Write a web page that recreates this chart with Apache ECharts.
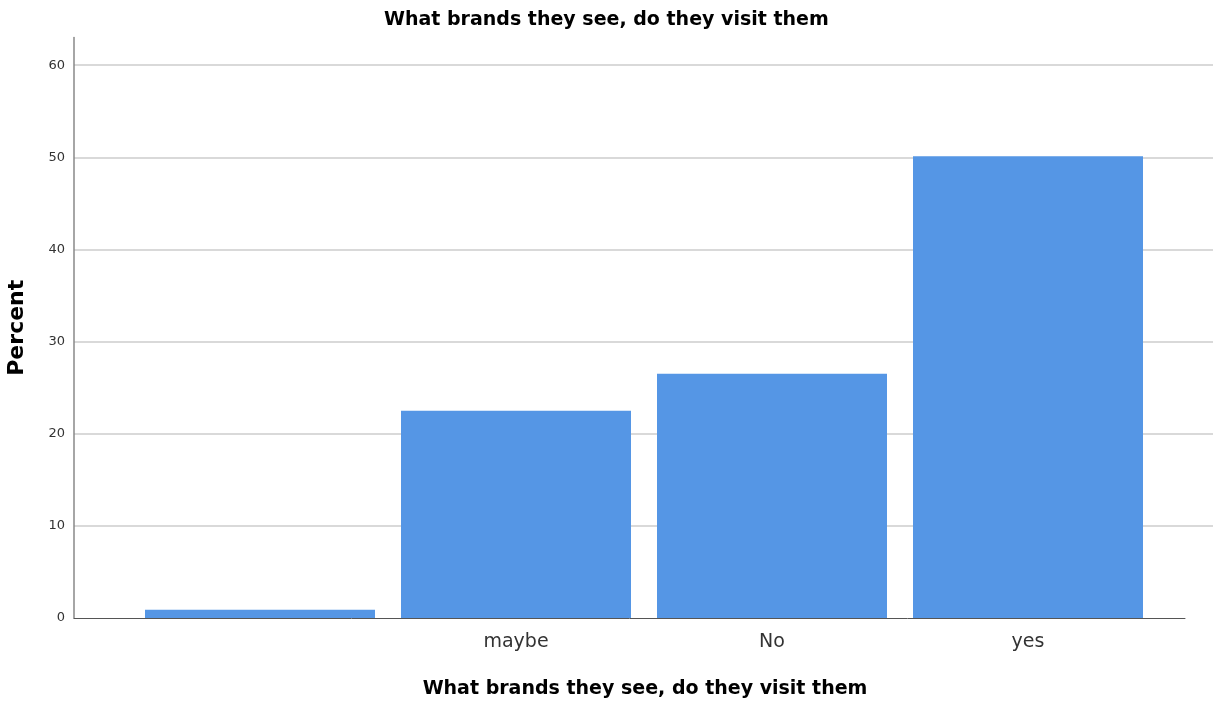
<!DOCTYPE html>
<html>
<head>
<meta charset="utf-8">
<script src="https://cdn.jsdelivr.net/npm/echarts@6/dist/echarts.min.js"></script>
<style>
  html, body { margin: 0; padding: 0; background: #fff; }
  #chart { width: 1217px; height: 708px; }
</style>
</head>
<body>
<div id="chart"></div>
<script>
var categories = ['', 'maybe', 'No', 'yes'];
var percentValues = [0.9, 22.5, 26.5, 50.1];
var yMax = 63;

var myChart = echarts.init(document.getElementById('chart'));
myChart.setOption({
  animation: false,
  title: {
    text: 'What brands they see, do they visit them',
    left: 379,
    top: 6,
    textStyle: { fontFamily: 'DejaVu Sans', fontSize: 19, fontWeight: 'bold', color: '#000' }
  },
  grid: [
    { left: 74, right: 4, top: 37.5, bottom: 90, outerBoundsMode: 'none' },   // gridlines + y axis
    { left: 74, right: 32, top: 37.5, bottom: 90, outerBoundsMode: 'none' },  // x axis line
    { left: 132, right: 61, top: 37.5, bottom: 90, outerBoundsMode: 'none' }  // bars
  ],
  xAxis: [
    { gridIndex: 0, type: 'value', show: false, min: 0, max: 1 },
    {
      gridIndex: 1, type: 'value', min: 0, max: 1,
      axisLine: { show: true, lineStyle: { color: '#555', width: 1 } },
      axisTick: { show: false }, axisLabel: { show: false }, splitLine: { show: false },
      name: 'What brands they see, do they visit them',
      nameLocation: 'middle', nameGap: 62,
      nameTextStyle: { fontFamily: 'DejaVu Sans', fontSize: 19, fontWeight: 'bold', color: '#000', padding: [0, 0, 0, 31] }
    },
    {
      gridIndex: 2, type: 'category', data: categories,
      axisLine: { show: false }, axisTick: { show: false },
      axisLabel: { fontFamily: 'DejaVu Sans', fontSize: 19, color: '#333', margin: 15 }
    }
  ],
  yAxis: [
    {
      gridIndex: 0, type: 'value', min: 0, max: yMax, interval: 10,
      axisLine: { show: true, lineStyle: { color: '#888', width: 1.5 } },
      axisTick: { show: false },
      axisLabel: { showMaxLabel: false, fontFamily: 'DejaVu Sans', fontSize: 13, color: '#333', margin: 9 },
      splitLine: { show: true, showMaxLine: false, showMinLine: false, lineStyle: { color: '#cccccc', width: 1.5 } },
      name: 'Percent', nameLocation: 'middle', nameGap: 46, nameRotate: 90,
      nameTextStyle: { fontFamily: 'DejaVu Sans', fontSize: 22, fontWeight: 'bold', color: '#000' }
    },
    { gridIndex: 1, type: 'value', show: false, min: 0, max: yMax },
    { gridIndex: 2, type: 'value', show: false, min: 0, max: yMax }
  ],
  series: [
    {
      type: 'bar', xAxisIndex: 2, yAxisIndex: 2,
      data: percentValues, barWidth: 230,
      itemStyle: { color: '#5596e5' }
    }
  ]
}, true);
</script>
</body>
</html>
